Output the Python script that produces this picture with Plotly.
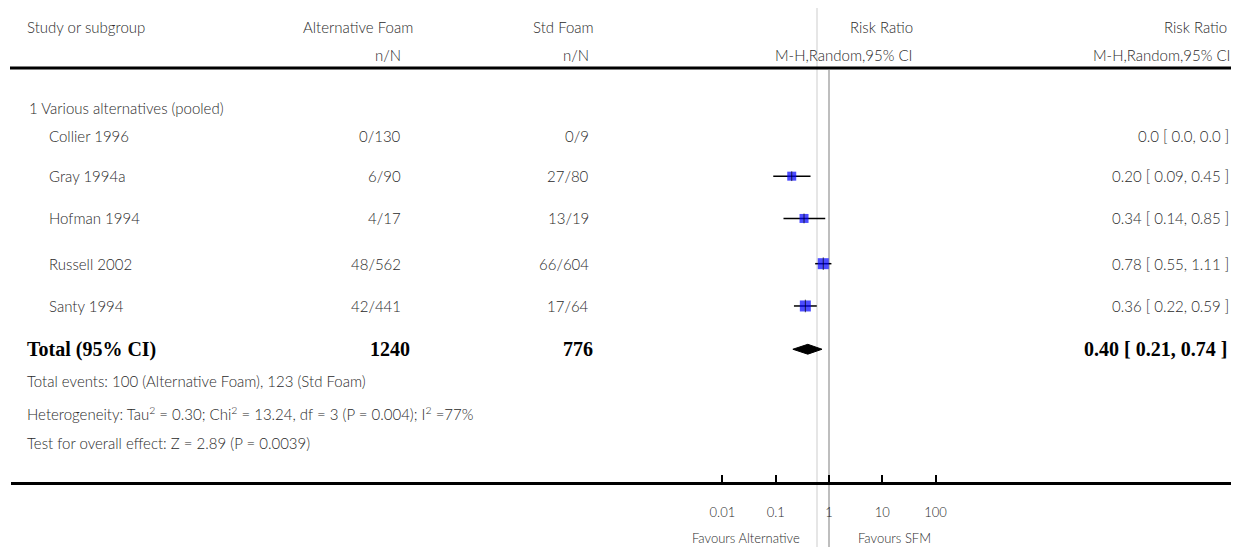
import plotly.graph_objects as go

# ---------------- data ----------------
studies = ["Collier 1996", "Gray 1994a", "Hofman 1994", "Russell 2002", "Santy 1994"]
alt_nN = ["0/130", "6/90", "4/17", "48/562", "42/441"]
std_nN = ["0/9", "27/80", "13/19", "66/604", "17/64"]
rr = [None, 0.20, 0.34, 0.78, 0.36]
rr_lo = [None, 0.09, 0.14, 0.55, 0.22]
rr_hi = [None, 0.45, 0.85, 1.11, 0.59]
rr_text = ["0.0 [ 0.0, 0.0 ]", "0.20 [ 0.09, 0.45 ]", "0.34 [ 0.14, 0.85 ]",
           "0.78 [ 0.55, 1.11 ]", "0.36 [ 0.22, 0.59 ]"]
subgroup = "1 Various alternatives (pooled)"
total_label = "Total (95% CI)"
total_alt_N = "1240"
total_std_N = "776"
pooled = 0.40
pooled_lo = 0.21
pooled_hi = 0.74
pooled_text = "0.40 [ 0.21, 0.74 ]"
footer_lines = [
    "Total events: 100 (Alternative Foam), 123 (Std Foam)",
    "Heterogeneity: Tau<sup>2</sup> = 0.30; Chi<sup>2</sup> = 13.24, df = 3 (P = 0.004); I<sup>2</sup> =77%",
    "Test for overall effect: Z = 2.89 (P = 0.0039)",
]
tick_vals = [0.01, 0.1, 1, 10, 100]
tick_text = ["0.01", "0.1", "1", "10", "100"]
favours_left = "Favours Alternative"
favours_right = "Favours SFM"

# ---------------- layout constants (reference pixels) ----------------
W, H = 1239, 547
OFF = 8                      # page body margin
FW, FH = W - OFF, H - OFF    # figure size
AXIS_Y = 482
X_ONE = 829.0
PX_DEC = 53.3
X_LEFT = 11
study_y = [130, 171, 214, 260, 303]
marker_sizes = [0, 9, 9, 11, 11]
sub_y = 102
total_y = 347
footer_y = [379, 412, 442]

FONT = "Lato"
TXT = "#2a2a2a"
FS = 15
FW8 = 300
SERIF = "Liberation Serif"
BFS = 20

def px(x):
    return (x - OFF) / FW

def ypaper(ypx):
    return (H - ypx) / FH

range_lo = (X_LEFT - X_ONE) / PX_DEC
range_hi = (W - X_ONE) / PX_DEC

fig = go.Figure()

# study estimates
idx = [i for i, v in enumerate(rr) if v is not None]
xs = [rr[i] for i in idx]
ys = [study_y[i] for i in idx]
fig.add_trace(go.Scatter(
    x=xs, y=ys, mode="markers",
    marker=dict(symbol="square", color="#0000ff", size=[marker_sizes[i] for i in idx],
                line=dict(width=0)),
    error_x=dict(type="data", symmetric=False,
                 array=[rr_hi[i] - rr[i] for i in idx],
                 arrayminus=[rr[i] - rr_lo[i] for i in idx],
                 color="black", thickness=1.5, width=0),
    showlegend=False, hoverinfo="skip"))
fig.add_trace(go.Scatter(
    x=xs, y=ys, mode="markers",
    marker=dict(symbol="line-ns", size=[marker_sizes[i] - 2 for i in idx],
                line=dict(color="black", width=1)),
    showlegend=False, hoverinfo="skip"))

# pooled diamond
fig.add_trace(go.Scatter(
    x=[pooled_lo, pooled, pooled_hi, pooled, pooled_lo],
    y=[total_y, total_y - 5, total_y, total_y + 5, total_y],
    mode="lines", fill="toself", fillcolor="black",
    line=dict(color="black", width=1), showlegend=False, hoverinfo="skip"))

shapes = []
# light vertical line
shapes.append(dict(type="line", xref="paper", yref="paper", x0=px(817), x1=px(817),
                   y0=0, y1=1, line=dict(color="#e6e6e6", width=2), layer="below"))
# no-effect line
shapes.append(dict(type="line", xref="x", yref="paper", x0=1, x1=1,
                   y0=0, y1=ypaper(70), line=dict(color="#a8a8a8", width=1.5), layer="below"))
# header rule
shapes.append(dict(type="line", xref="paper", yref="paper", x0=px(10), x1=1,
                   y0=ypaper(68), y1=ypaper(68), line=dict(color="black", width=3)))

ann = []
def add_text(x, y, text, anchor="left", size=FS, family=FONT, color=TXT, yref="y", weight=FW8):
    ann.append(dict(x=px(x), y=y, xref="paper", yref=yref, text=text, showarrow=False,
                    xanchor=anchor, yanchor="middle",
                    font=dict(family=family, size=size, color=color, weight=weight)))

# header
add_text(25, ypaper(27), "Study or subgroup", yref="paper")
add_text(415, ypaper(27), "Alternative Foam", "right", yref="paper")
add_text(403, ypaper(55), "n/N", "right", yref="paper")
add_text(596, ypaper(27), "Std Foam", "right", yref="paper")
add_text(591, ypaper(55), "n/N", "right", yref="paper")
add_text(915, ypaper(27), "Risk Ratio", "right", yref="paper")
add_text(915, ypaper(55), "M-H,Random,95% CI", "right", yref="paper")
add_text(1229, ypaper(27), "Risk Ratio", "right", yref="paper")
add_text(1233, ypaper(55), "M-H,Random,95% CI", "right", yref="paper")

# subgroup + studies
add_text(27, sub_y, subgroup)
for name, a, s, t, y in zip(studies, alt_nN, std_nN, rr_text, study_y):
    add_text(47, y, name)
    add_text(403, y, a, "right")
    add_text(591, y, s, "right")
    add_text(1231, y, t, "right")

# total
add_text(25, total_y, "<b>" + total_label + "</b>", size=BFS, family=SERIF, color="black", weight=700)
add_text(412, total_y, "<b>" + total_alt_N + "</b>", "right", size=BFS, family=SERIF, color="black", weight=700)
add_text(595, total_y, "<b>" + total_std_N + "</b>", "right", size=BFS, family=SERIF, color="black", weight=700)
add_text(1229, total_y, "<b>" + pooled_text + "</b>", "right", size=BFS, family=SERIF, color="black", weight=700)

for line, y in zip(footer_lines, footer_y):
    add_text(25, y, line)

# favours
add_text(802, ypaper(538), favours_left, "right", size=13, yref="paper")
add_text(856, ypaper(538), favours_right, "left", size=13, yref="paper")

fig.update_layout(
    width=FW, height=FH, margin=dict(l=0, r=0, t=0, b=0),
    paper_bgcolor="white", plot_bgcolor="white",
    shapes=shapes, annotations=ann,
    xaxis=dict(type="log", domain=[px(X_LEFT), 1], range=[range_lo, range_hi],
               showgrid=False, zeroline=False, showline=True, linecolor="black", linewidth=3,
               tickvals=tick_vals, ticktext=tick_text, ticks="inside", ticklen=7,
               tickwidth=2, tickcolor="black", ticklabelstandoff=16,
               tickfont=dict(family=FONT, size=13, color=TXT, weight=FW8), fixedrange=True),
    yaxis=dict(domain=[ypaper(AXIS_Y), 1], range=[AXIS_Y, 0], visible=False,
               fixedrange=True),
)

fig.write_html("out.html")
